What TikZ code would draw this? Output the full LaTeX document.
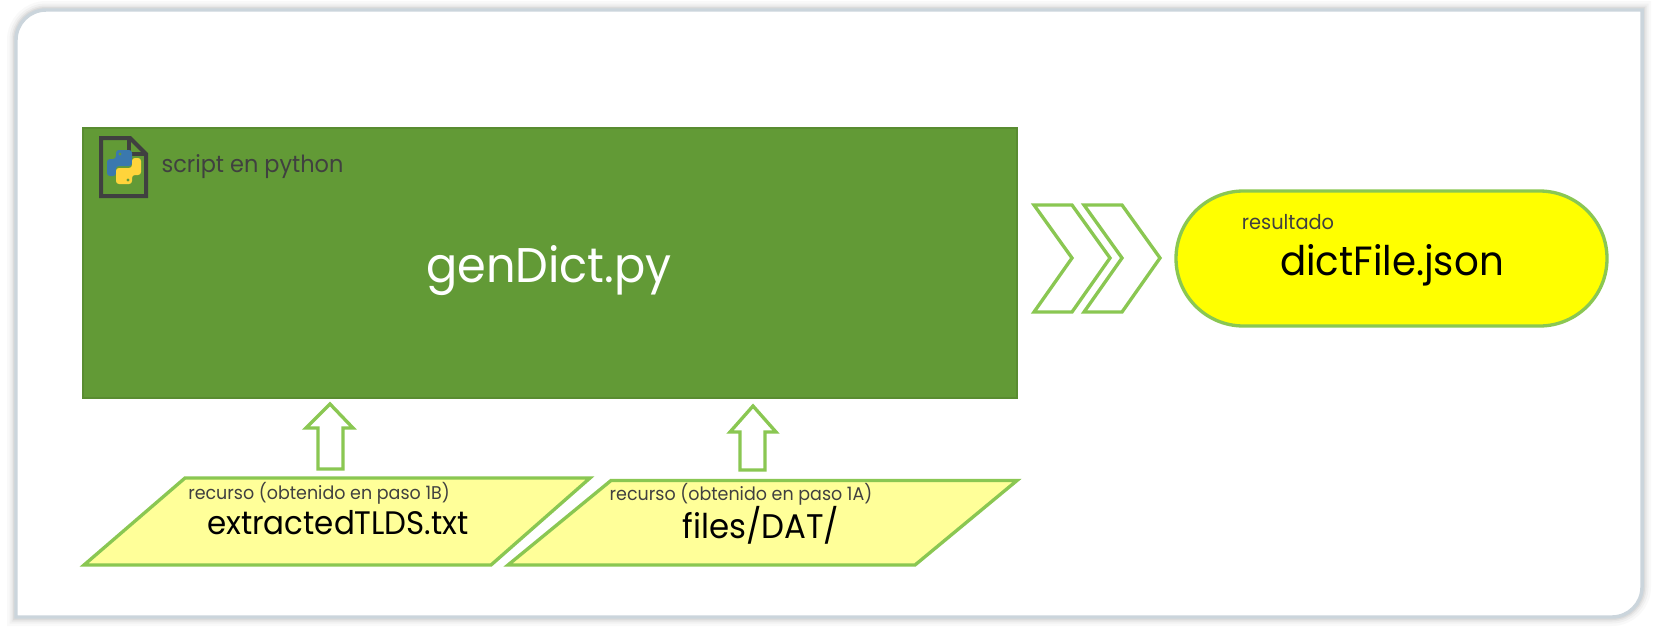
\documentclass[tikz,border=0pt]{standalone}
\usepackage{fontspec}
\setmainfont{Poppins}[FakeStretch=0.95]
\definecolor{frameC}{HTML}{CBD5DC}
\definecolor{mainG}{HTML}{629A36}
\definecolor{mainE}{HTML}{598C31}
\definecolor{lineG}{HTML}{8AC752}
\definecolor{paleY}{RGB}{255,255,153}
\definecolor{pureY}{RGB}{255,255,0}
\definecolor{darkT}{HTML}{404040}
\definecolor{pyB}{HTML}{3A78AE}
\definecolor{pyY}{HTML}{FFD43B}
\tikzset{
  x=0.75pt,y=-0.75pt,
  gline/.style={draw=lineG,line width=2.5pt,line join=miter},
  blockarrow/.style={gline,fill=white},
  smalltext/.style={inner sep=0pt,text=darkT,font=\fontsize{13.8}{15}\selectfont,anchor=center},
  bigtext/.style={inner sep=0pt,text=black,anchor=center},
}
\begin{document}
\begin{tikzpicture}
\useasboundingbox (0,0) rectangle (1659,640);
\fill[white] (0,0) rectangle (1659,640);
% frame with soft shadow
\foreach \w/\o in {18/0.025,13/0.03,9/0.04,6/0.05}{
  \draw[black,opacity=\o,line width=\w*0.75pt]
    (46,10) -- (1642,10) -- (1642,587) arc[start angle=0,end angle=90,radius=30] -- (16,617) -- (16,40) arc[start angle=180,end angle=270,radius=30] -- cycle;
}
\draw[frameC,fill=white,line width=2.6pt]
  (46,10) -- (1642,10) -- (1642,587) arc[start angle=0,end angle=90,radius=30] -- (16,617) -- (16,40) arc[start angle=180,end angle=270,radius=30] -- cycle;
% main box
\draw[fill=mainG,draw=mainE,line width=0.8pt] (83,128) rectangle (1017,398);
% file icon
\draw[darkT,line width=3pt,line join=miter] (101,138) -- (130,138) -- (146,154) -- (146,196) -- (101,196) -- cycle;
\draw[darkT,line width=3pt,line join=miter] (129,137) -- (129,154) -- (147,154);
% python logo
\begin{scope}[shift={(124,167)}]
\fill[pyB,rounded corners=2.2pt] (-8,-17) -- (8,-17) -- (8,-1) -- (-8,-1) -- (-8,9) -- (-17,9) -- (-17,-8) -- (-8,-8) -- cycle;
\fill[pyY,rounded corners=2.2pt] (8,17) -- (-8,17) -- (-8,1) -- (8,1) -- (8,-9) -- (17,-9) -- (17,8) -- (8,8) -- cycle;
\fill[mainG] (-4,-13) circle[radius=1.7] (4,13) circle[radius=1.7];
\end{scope}
\node[smalltext,font=\fontsize{17.7}{20}\selectfont] (scr) at (252.5,167) {script en python};
\node[bigtext,text=white,font=\fontsize{36.5}{40}\selectfont] (gen) at (549,271) {genDict.py};
% chevrons
\draw[blockarrow] (1034,205) -- (1072,205) -- (1110,258) -- (1072,312) -- (1034,312) -- (1072,258) -- cycle;
\draw[blockarrow] (1084,205) -- (1122,205) -- (1160,258) -- (1122,312) -- (1084,312) -- (1122,258) -- cycle;
% result
\draw[gline,fill=pureY,rounded corners=50.6pt] (1176,191) rectangle (1607,326);
\node[smalltext,font=\fontsize{15.3}{17}\selectfont] (res) at (1288,222) {resultado};
\node[bigtext,font=\fontsize{30.6}{34}\selectfont] (dict) at (1392,265) {dictFile.json};
% up arrows
\draw[blockarrow] (330,404) -- (353,428) -- (343,428) -- (343,469) -- (318,469) -- (318,428) -- (306,428) -- cycle;
\draw[blockarrow] (753,406) -- (776,432) -- (765,432) -- (765,470) -- (740,470) -- (740,432) -- (730,432) -- cycle;
% parallelograms
\draw[gline,fill=paleY] (185,478) -- (590,478) -- (491,565) -- (84,565) -- cycle;
\draw[gline,fill=paleY] (611,480.5) -- (1017,480.5) -- (915,565) -- (508,565) -- cycle;
\node[smalltext] (r1) at (319,493) {recurso (obtenido en paso 1B)};
\node[bigtext,font=\fontsize{24.4}{28}\selectfont] (ext) at (338,523) {extractedTLDS.txt};
\node[smalltext] (r2) at (741,494) {recurso (obtenido en paso 1A)};
\node[bigtext,font=\fontsize{25.6}{30}\selectfont] (fil) at (761,525) {files/DAT/};
\end{tikzpicture}
\end{document}
